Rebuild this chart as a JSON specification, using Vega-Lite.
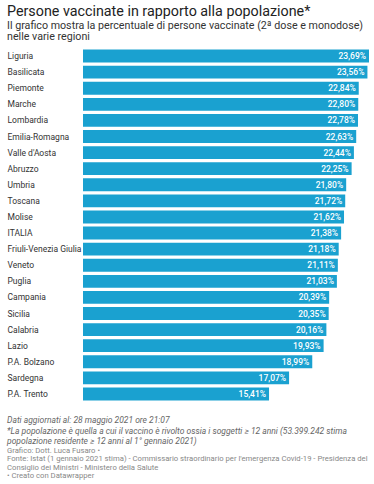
{
  "$schema": "https://vega.github.io/schema/vega-lite/v6.json",
  "background": "white",
  "padding": {"left": 7, "top": 5, "right": 5, "bottom": 0},
  "autosize": {"type": "pad"},
  "title": {
    "text": "Persone vaccinate in rapporto alla popolazione*",
    "subtitle": ["Il grafico mostra la percentuale di persone vaccinate (2ª dose e monodose)", "nelle varie regioni"],
    "anchor": "start",
    "frame": "bounds",
    "font": "Roboto",
    "fontSize": 14.3,
    "fontWeight": "normal",
    "color": "#222222",
    "subtitleFont": "Roboto",
    "subtitleFontSize": 10.7,
    "subtitleColor": "#333333",
    "subtitleLineHeight": 11.3,
    "subtitlePadding": 1.5,
    "offset": 6
  },
  "vconcat": [
    {
      "width": 286,
      "height": 354,
      "title": {
        "text": ["Dati aggiornati al: 28 maggio 2021 ore 21:07", "*La popolazione è quella a cui il vaccino è rivolto ossia i soggetti ≥ 12 anni (53.399.242 stima", "popolazione residente ≥ 12 anni al 1° gennaio 2021)"],
        "subtitle": ["Grafico: Dott. Luca Fusaro •", "Fonte: Istat (1 gennaio 2021 stima) - Commissario straordinario per l'emergenza Covid-19 - Presidenza del", "Consiglio dei Ministri - Ministero della Salute", " • Creato con Datawrapper"],
        "orient": "bottom",
        "anchor": "start",
        "frame": "bounds",
        "font": "Roboto",
        "fontSize": 8.5,
        "fontStyle": "italic",
        "fontWeight": "normal",
        "color": "#666666",
        "lineHeight": 10.5,
        "subtitleFont": "Roboto",
        "subtitleFontSize": 7.7,
        "subtitleColor": "#888888",
        "subtitleLineHeight": 8.6,
        "subtitlePadding": 1,
        "offset": 14
      },
      "data": {
        "values": [
          {"regione": "Liguria", "pct": 0.2369},
          {"regione": "Basilicata", "pct": 0.2356},
          {"regione": "Piemonte", "pct": 0.2284},
          {"regione": "Marche", "pct": 0.2280},
          {"regione": "Lombardia", "pct": 0.2278},
          {"regione": "Emilia-Romagna", "pct": 0.2263},
          {"regione": "Valle d'Aosta", "pct": 0.2244},
          {"regione": "Abruzzo", "pct": 0.2225},
          {"regione": "Umbria", "pct": 0.2180},
          {"regione": "Toscana", "pct": 0.2172},
          {"regione": "Molise", "pct": 0.2162},
          {"regione": "ITALIA", "pct": 0.2138},
          {"regione": "Friuli-Venezia Giulia", "pct": 0.2118},
          {"regione": "Veneto", "pct": 0.2111},
          {"regione": "Puglia", "pct": 0.2103},
          {"regione": "Campania", "pct": 0.2039},
          {"regione": "Sicilia", "pct": 0.2035},
          {"regione": "Calabria", "pct": 0.2016},
          {"regione": "Lazio", "pct": 0.1993},
          {"regione": "P.A. Bolzano", "pct": 0.1899},
          {"regione": "Sardegna", "pct": 0.1707},
          {"regione": "P.A. Trento", "pct": 0.1541}
        ]
      },
      "encoding": {
        "y": {
          "field": "regione",
          "type": "nominal",
          "sort": null,
          "scale": {"paddingInner": 0.2, "paddingOuter": 0.1},
          "axis": {
            "title": null,
            "domain": false,
            "ticks": false,
            "tickSize": 0,
            "labelAlign": "left",
            "labelPadding": 76,
            "labelFont": "Roboto",
            "labelFontSize": 8.5,
            "labelColor": "#333333",
            "labelLimit": 100
          }
        }
      },
      "layer": [
        {
          "mark": {"type": "bar", "color": "#1aa1d0"},
          "encoding": {
            "x": {"field": "pct", "type": "quantitative", "scale": {"domain": [0, 0.2369], "nice": false}, "axis": null}
          }
        },
        {
          "mark": {"type": "text", "align": "right", "baseline": "middle", "dx": -3, "color": "white", "font": "Roboto", "fontSize": 8.5, "fontWeight": 500},
          "encoding": {
            "x": {"field": "pct", "type": "quantitative"},
            "text": {"field": "pct", "type": "quantitative", "format": ".2%"}
          }
        }
      ]
    }
  ],
  "config": {
    "view": {"stroke": null},
    "locale": {"number": {"decimal": ",", "thousands": ".", "grouping": [3], "currency": ["", " €"]}}
  }
}
